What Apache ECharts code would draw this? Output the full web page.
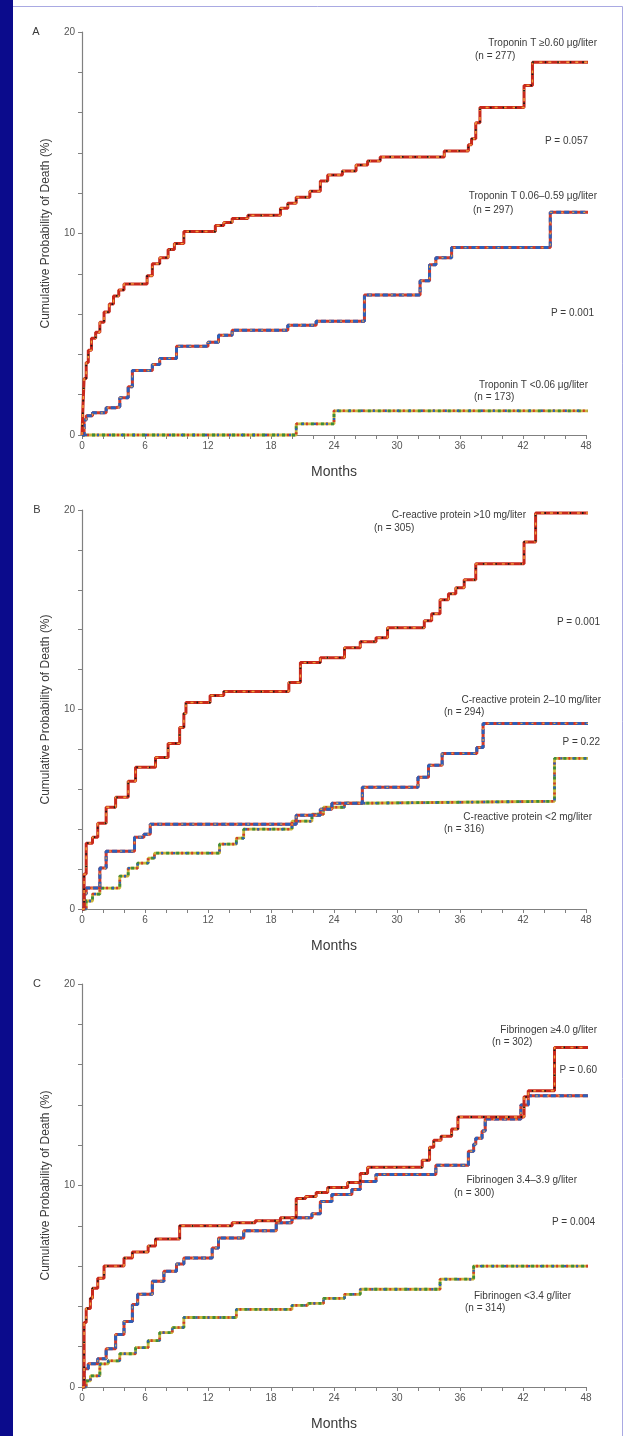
<!DOCTYPE html>
<html><head><meta charset="utf-8">
<script src="https://cdn.jsdelivr.net/npm/echarts@6/dist/echarts.min.js"></script>
<style>html,body{margin:0;padding:0;background:#fff}#c{width:625px;height:1436px}</style>
</head><body><div id="c"></div>
<script>
// ---------- DATA ----------
const xTickLabels = [0, 6, 12, 18, 24, 30, 36, 42, 48];
const yTickLabels = [0, 10, 20];
const panelLetters = ['A', 'B', 'C'];
const yAxisTitle = 'Cumulative Probability of Death (%)';
const xAxisTitle = 'Months';

// Panel A: troponin T (month, cumulative %)
const aHigh = [[0,0],[0.1,1.5],[0.2,2.8],[0.4,3.6],[0.6,4.2],[0.9,4.8],[1.3,5.1],[1.7,5.6],[2.1,6.1],[2.6,6.5],[3.0,6.9],[3.5,7.2],[4.0,7.5],[6.2,7.9],[6.7,8.5],[7.4,8.8],[8.2,9.2],[8.8,9.5],[9.7,10.1],[12.7,10.4],[13.5,10.55],[14.3,10.75],[15.8,10.9],[18.9,11.25],[19.6,11.5],[20.4,11.8],[21.7,12.1],[22.7,12.6],[23.4,12.9],[24.8,13.1],[26.1,13.4],[27.2,13.6],[28.4,13.8],[34.5,14.1],[36.8,14.4],[37.1,14.7],[37.5,15.5],[37.9,16.25],[42.1,17.35],[42.9,18.5],[48.9,18.5]];
const aMid = [[0,0],[0.2,0.75],[0.4,0.95],[1.0,1.1],[2.3,1.35],[3.2,1.4],[3.6,1.85],[4.4,2.4],[4.8,3.2],[6.7,3.5],[7.4,3.8],[9.0,4.4],[12.0,4.6],[13.0,4.95],[14.3,5.2],[19.6,5.45],[22.3,5.65],[26.9,6.95],[32.2,7.65],[33.1,8.45],[33.7,8.8],[35.2,9.3],[44.6,11.05],[48.6,11.05]];
const aLow = [[0,0],[20.4,0.55],[24.0,1.2],[48.8,1.2]];

// Panel B: C-reactive protein
const bHigh = [[0,0],[0.2,1.75],[0.4,3.3],[1.0,3.6],[1.5,4.3],[2.3,5.1],[3.2,5.6],[4.4,6.4],[5.1,7.1],[7.0,7.6],[8.2,8.3],[9.3,9.1],[9.7,9.8],[9.9,10.35],[12.2,10.7],[13.5,10.9],[19.7,11.35],[20.8,12.35],[22.7,12.6],[25.0,13.1],[26.5,13.4],[28.0,13.6],[29.1,14.1],[32.6,14.45],[33.3,14.8],[34.1,15.5],[34.9,15.8],[35.6,16.1],[36.4,16.5],[37.5,17.3],[42.1,18.4],[43.2,19.85],[49.0,19.85]];
const bMid = [[0,0],[0.2,0.75],[0.4,1.05],[1.7,2.05],[2.3,2.9],[5.0,3.6],[5.9,3.75],[6.5,4.25],[20.4,4.7],[22.7,5.0],[23.8,5.3],[26.7,6.1],[32.0,6.6],[33.0,7.2],[34.3,7.8],[37.6,8.1],[38.2,9.3],[48.8,9.3]];
const bLow = [[0,0],[0.4,0.4],[1.0,0.75],[1.7,1.05],[3.6,1.65],[4.4,2.05],[5.3,2.3],[6.3,2.55],[6.9,2.8],[13.1,3.25],[14.7,3.55],[15.4,4.0],[20.0,4.4],[21.9,4.75],[23.0,5.1],[25.0,5.3],[26.5,5.4],[45.0,7.55],[48.7,7.55]];

// Panel C: fibrinogen
const cHigh = [[0,0],[0.2,3.2],[0.4,3.9],[0.8,4.4],[1.0,4.9],[1.5,5.4],[2.1,6.0],[4.0,6.4],[4.8,6.7],[6.3,7.0],[7.0,7.35],[9.3,8.0],[14.3,8.15],[16.5,8.25],[18.9,8.4],[20.4,9.35],[21.3,9.45],[22.3,9.65],[23.4,9.9],[25.3,10.15],[26.5,10.6],[27.2,10.9],[32.4,11.25],[33.1,11.9],[33.5,12.25],[34.2,12.45],[35.2,12.8],[35.8,13.4],[42.1,14.4],[42.5,14.7],[45.0,16.85],[48.9,16.85]];
const cMid = [[0,0],[0.2,0.9],[0.6,1.15],[1.5,1.4],[2.3,1.9],[3.2,2.6],[4.0,3.25],[4.8,4.1],[5.3,4.6],[6.7,5.25],[7.8,5.75],[9.0,6.1],[9.7,6.4],[12.4,6.9],[13.0,7.4],[15.4,7.75],[18.5,8.15],[20.0,8.4],[21.9,8.6],[22.7,9.2],[23.8,9.55],[25.7,9.8],[26.5,10.2],[28.0,10.55],[33.7,11.0],[36.8,11.7],[37.3,12.05],[37.5,12.35],[38.1,12.7],[38.4,13.3],[41.8,14.0],[42.5,14.45],[48.9,14.45]];
const cLow = [[0,0],[0.4,0.3],[0.8,0.55],[1.7,1.15],[2.5,1.3],[3.6,1.65],[5.1,1.95],[6.3,2.3],[7.4,2.7],[8.6,2.95],[9.7,3.45],[14.7,3.85],[20.0,4.05],[21.5,4.15],[23.0,4.4],[25.0,4.6],[26.5,4.85],[34.1,5.35],[37.3,6.0],[48.8,6.0]];

const groupLabelsA = ['Troponin T \u22650.60 \u03bcg/liter', '(n = 277)', 'Troponin T 0.06\u20130.59 \u03bcg/liter', '(n = 297)', 'Troponin T <0.06 \u03bcg/liter', '(n = 173)'];
const groupLabelsB = ['C-reactive protein >10 mg/liter', '(n = 305)', 'C-reactive protein 2\u201310 mg/liter', '(n = 294)', 'C-reactive protein <2 mg/liter', '(n = 316)'];
const groupLabelsC = ['Fibrinogen \u22654.0 g/liter', '(n = 302)', 'Fibrinogen 3.4\u20133.9 g/liter', '(n = 300)', 'Fibrinogen <3.4 g/liter', '(n = 314)'];
const pValuesA = ['P = 0.057', 'P = 0.001'];
const pValuesB = ['P = 0.001', 'P = 0.22'];
const pValuesC = ['P = 0.60', 'P = 0.004'];

// ---------- LAYOUT / STYLE ----------
const grids = [
  {left: 82, top: 32, width: 504, height: 403},
  {left: 82, top: 510, width: 504, height: 399},
  {left: 82, top: 984, width: 504, height: 403}
];
const FONT = 'Liberation Sans, Arial, sans-serif';
const TXT = '#3a3a3a';
const AX = '#808080';

const styleHigh = [
  {color: '#c8281c', width: 3},
  {color: '#f2a23a', width: 1.4, type: [3, 6]},
  {color: '#1a1a1a', width: 1.8, type: [1.5, 11], dashOffset: 4}
];
const styleMid = [
  {color: '#d23a2a', width: 3},
  {color: '#2d5fb8', width: 3, type: [5, 3]},
  {color: '#f0a040', width: 1.3, type: [2, 9], dashOffset: 3}
];
const styleLow = [
  {color: '#c9b43a', width: 2.8},
  {color: '#3c8c3c', width: 2.8, type: [3, 7]},
  {color: '#d03a2a', width: 2.6, type: [2, 8], dashOffset: 5},
  {color: '#2d5fb8', width: 2.4, type: [2, 10], dashOffset: 9}
];

function layers(data, idx, styles, z) {
  return styles.map((s, k) => ({
    type: 'line', xAxisIndex: idx, yAxisIndex: idx, data: data,
    step: 'end', symbol: 'none', clip: false, silent: true, animation: false,
    lineStyle: s, z: z + k
  }));
}

const series = [].concat(
  layers(aLow, 0, styleLow, 2), layers(aMid, 0, styleMid, 10), layers(aHigh, 0, styleHigh, 20),
  layers(bLow, 1, styleLow, 2), layers(bMid, 1, styleMid, 10), layers(bHigh, 1, styleHigh, 20),
  layers(cLow, 2, styleLow, 2), layers(cMid, 2, styleMid, 10), layers(cHigh, 2, styleHigh, 20)
);

const xAxes = grids.map((g, i) => ({
  gridIndex: i, type: 'value', min: 0, max: 48, interval: 2,
  name: xAxisTitle, nameLocation: 'middle', nameGap: 30,
  nameTextStyle: {fontFamily: FONT, fontSize: 14, color: TXT},
  axisLine: {show: true, lineStyle: {color: AX, width: 1.2}},
  axisTick: {show: true, length: 4, lineStyle: {color: AX}},
  axisLabel: {margin: 6, fontFamily: FONT, fontSize: 10, color: '#555',
    formatter: v => (xTickLabels.indexOf(v) >= 0 ? String(v) : '')},
  splitLine: {show: false}
}));
const yAxes = grids.map((g, i) => ({
  gridIndex: i, type: 'value', min: 0, max: 20, interval: 2,
  name: yAxisTitle, nameLocation: 'middle', nameGap: 30,
  nameTextStyle: {fontFamily: FONT, fontSize: 12, color: TXT},
  axisLine: {show: true, lineStyle: {color: AX, width: 1.2}},
  axisTick: {show: true, length: 4, lineStyle: {color: AX}},
  axisLabel: {margin: 7, fontFamily: FONT, fontSize: 10, color: '#555',
    formatter: v => (yTickLabels.indexOf(v) >= 0 ? String(v) : '')},
  splitLine: {show: false}
}));

function txt(x, y, s, size, align) {
  return {type: 'text', x: x, y: y, silent: true, z: 50,
    style: {text: s, fill: TXT, font: (size || 10) + 'px ' + FONT,
      align: align || 'left', verticalAlign: 'middle'}};
}

const graphics = [
  {type: 'rect', shape: {x: 0, y: 0, width: 13, height: 1436}, style: {fill: '#0b0b8c'}, z: 1, silent: true},
  {type: 'line', shape: {x1: 13, y1: 6.5, x2: 622.5, y2: 6.5}, style: {stroke: '#a9a9e2', lineWidth: 1}, silent: true},
  {type: 'line', shape: {x1: 622.5, y1: 6.5, x2: 622.5, y2: 1436}, style: {stroke: '#a9a9e2', lineWidth: 1}, silent: true},
  txt(36, 32, panelLetters[0], 11, 'center'),
  txt(37, 510, panelLetters[1], 11, 'center'),
  txt(37, 984, panelLetters[2], 11, 'center'),
  // Panel A labels
  txt(597, 43, groupLabelsA[0], 10, 'right'),
  txt(475, 56, groupLabelsA[1], 10, 'left'),
  txt(588, 141, pValuesA[0], 10, 'right'),
  txt(597, 196, groupLabelsA[2], 10, 'right'),
  txt(473, 210, groupLabelsA[3], 10, 'left'),
  txt(594, 313, pValuesA[1], 10, 'right'),
  txt(588, 385, groupLabelsA[4], 10, 'right'),
  txt(474, 397, groupLabelsA[5], 10, 'left'),
  // Panel B labels
  txt(526, 515, groupLabelsB[0], 10, 'right'),
  txt(374, 528, groupLabelsB[1], 10, 'left'),
  txt(600, 622, pValuesB[0], 10, 'right'),
  txt(601, 700, groupLabelsB[2], 10, 'right'),
  txt(444, 712, groupLabelsB[3], 10, 'left'),
  txt(600, 742, pValuesB[1], 10, 'right'),
  txt(592, 817, groupLabelsB[4], 10, 'right'),
  txt(444, 829, groupLabelsB[5], 10, 'left'),
  // Panel C labels
  txt(597, 1030, groupLabelsC[0], 10, 'right'),
  txt(492, 1042, groupLabelsC[1], 10, 'left'),
  txt(597, 1070, pValuesC[0], 10, 'right'),
  txt(577, 1180, groupLabelsC[2], 10, 'right'),
  txt(454, 1193, groupLabelsC[3], 10, 'left'),
  txt(595, 1222, pValuesC[1], 10, 'right'),
  txt(571, 1296, groupLabelsC[4], 10, 'right'),
  txt(465, 1308, groupLabelsC[5], 10, 'left')
];

const chart = echarts.init(document.getElementById('c'), null, {renderer: 'canvas'});
chart.setOption({
  animation: false,
  backgroundColor: '#ffffff',
  grid: grids,
  xAxis: xAxes,
  yAxis: yAxes,
  series: series,
  graphic: graphics
});
</script></body></html>
